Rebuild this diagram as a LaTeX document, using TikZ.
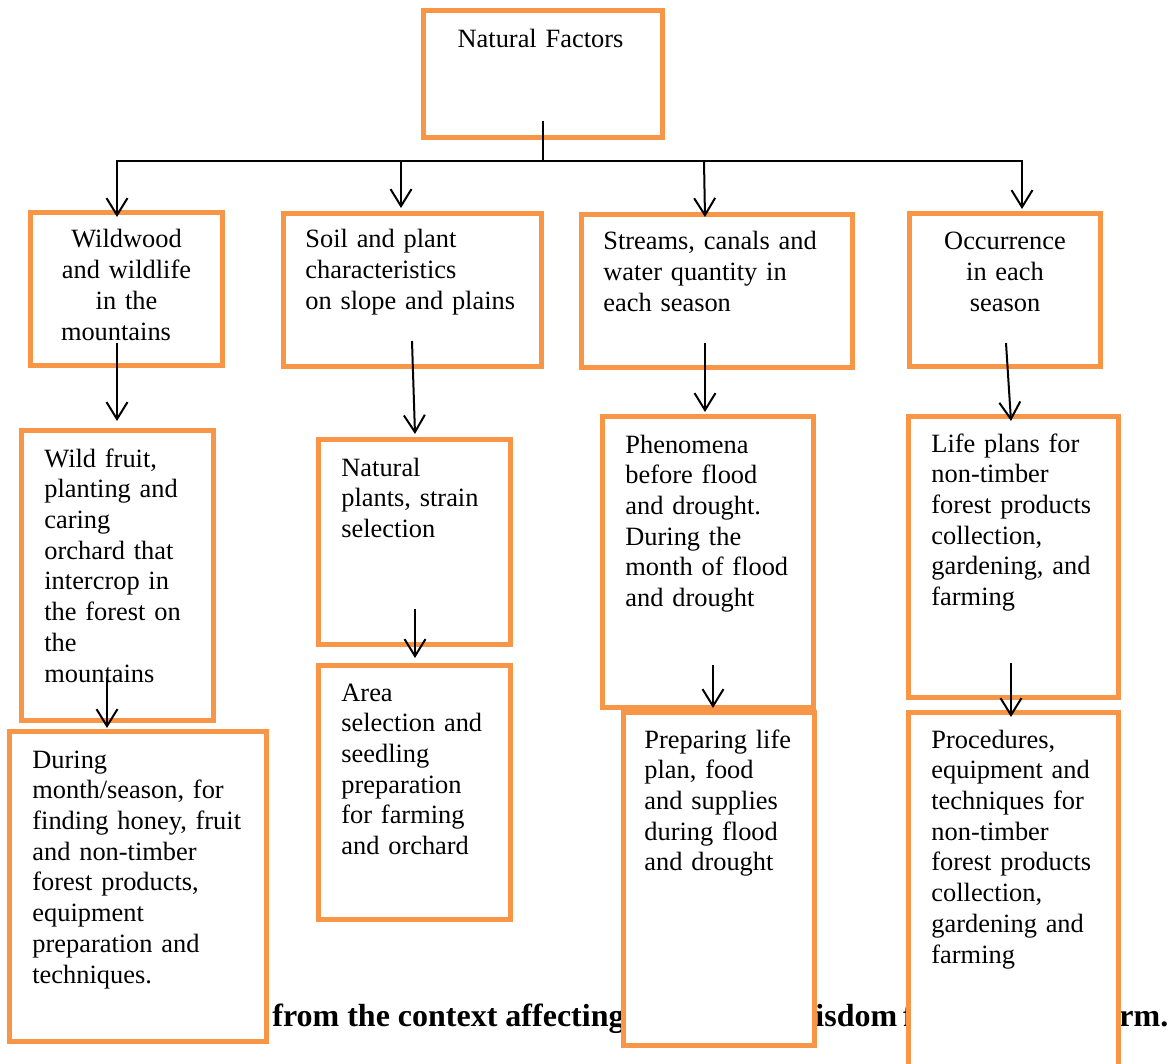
\documentclass[tikz,border=0pt]{standalone}
\usepackage{fontspec}
\setmainfont{Liberation Serif}
\usetikzlibrary{arrows.meta}
\definecolor{boxorange}{RGB}{247,150,70}
\newcommand\bxfont{\fontsize{13.2pt}{15.36pt}\selectfont}
\newcommand\capfont{\fontsize{16pt}{19pt}\selectfont\bfseries}
\begin{document}
\begin{tikzpicture}[x=0.5pt,y=-0.5pt,
 box/.style={draw=boxorange, line width=2.5pt, fill=white, inner sep=0pt, outer sep=0pt, rectangle},
 ltxt/.style={anchor=base west, align=left, text width=160pt, inner sep=0pt, font=\bxfont},
 ctxt/.style={anchor=base, align=center, text width=120pt, inner sep=0pt, font=\bxfont},
 captxt/.style={anchor=base west, inner sep=0pt, font=\capfont},
 conn/.style={line width=1pt, black},
 arr/.style={conn, -{Straight Barb[length=8.5pt,width=10.5pt]}}]
\useasboundingbox (0,0) rectangle (1173,1064);
% caption (partly hidden behind boxes)
\node[captxt] (cap1) at (272,1026) {from the context affecting};
\node[captxt] (cap2) at (815,1026) {isdom\hspace{-1pt} f};
\node[captxt] (cap3) at (1119,1026) {rm.};
% boxes
\node[box, minimum width=119.5pt, minimum height=63.5pt] (T) at (543,74) {};
\node[box, minimum width=96pt, minimum height=76.5pt] (B1) at (126.5,289) {};
\node[box, minimum width=129pt, minimum height=76.5pt] (B2) at (412.5,290) {};
\node[box, minimum width=135.5pt, minimum height=76.5pt] (B3) at (717,291) {};
\node[box, minimum width=95.5pt, minimum height=76.5pt] (B4) at (1005,290) {};
\node[box, minimum width=96pt, minimum height=145pt] (C1) at (117.5,575.5) {};
\node[box, minimum width=96pt, minimum height=102.5pt] (C2) at (414.5,542) {};
\node[box, minimum width=105.5pt, minimum height=145.5pt] (C3) at (708,562) {};
\node[box, minimum width=105pt, minimum height=140.5pt] (C4) at (1013.5,557) {};
\node[box, minimum width=128.5pt, minimum height=154.75pt] (D1) at (138,886.25) {};
\node[box, minimum width=96pt, minimum height=127pt] (D2) at (414.5,792.5) {};
\node[box, minimum width=95.5pt, minimum height=166.25pt] (D3) at (719,878.75) {};
\node[box, minimum width=105pt, minimum height=181.25pt] (D4) at (1013.5,893.75) {};
% texts
\node[ctxt] (tT) at (540.5,48) {Natural Factors};
\node[ctxt] (tB1) at (126.5,248) {Wildwood\\and wildlife\\in the\\mountains\hspace{10.5pt}\null};
\node[ltxt] (tB2) at (305,248) {Soil and plant\\characteristics\\on slope and plains};
\node[ltxt] (tB3) at (603,250) {Streams, canals and\\water quantity in\\each season};
\node[ctxt] (tB4) at (1005,250) {Occurrence\\in each\\season};
\node[ltxt] (tC1) at (44,467) {Wild fruit,\\planting and\\caring\\orchard that\\intercrop in\\the forest on\\the\\mountains};
\node[ltxt] (tC2) at (341,476) {Natural\\plants, strain\\selection};
\node[ltxt] (tC3) at (625,453) {Phenomena\\before flood\\and drought.\\During the\\month of flood\\and drought};
\node[ltxt] (tC4) at (931,452) {Life plans for\\non-timber\\forest products\\collection,\\gardening, and\\farming};
\node[ltxt] (tD1) at (32,768) {During\\month/season, for\\finding honey, fruit\\and non-timber\\forest products,\\equipment\\preparation and\\techniques.};
\node[ltxt] (tD2) at (341,701) {Area\\selection and\\seedling\\preparation\\for farming\\and orchard};
\node[ltxt] (tD3) at (644,748) {Preparing life\\plan, food\\and supplies\\during flood\\and drought};
\node[ltxt] (tD4) at (931,748) {Procedures,\\equipment and\\techniques for\\non-timber\\forest products\\collection,\\gardening and\\farming};
% connector points
\coordinate (ts) at (542.5,121);
\coordinate (tj) at (542.5,161);
\coordinate (hl) at (117,161);
\coordinate (hr) at (1022,161);
\coordinate (h2) at (401,161);
\coordinate (h3) at (704,161);
\coordinate (e1) at (117,217);
\coordinate (e2) at (401,208);
\coordinate (e3) at (705,217);
\coordinate (e4) at (1022,209);
\coordinate (s5) at (117,343);  \coordinate (e5) at (117,421);
\coordinate (s6) at (412,341);  \coordinate (e6) at (415,434);
\coordinate (s7) at (705,343);  \coordinate (e7) at (705,412);
\coordinate (s8) at (1006,343); \coordinate (e8) at (1011,421);
\coordinate (s9) at (107,677);  \coordinate (e9) at (107,728);
\coordinate (s10) at (415,609); \coordinate (e10) at (415,658);
\coordinate (s11) at (713,665); \coordinate (e11) at (713,708);
\coordinate (s12) at (1011,663); \coordinate (e12) at (1011,717);
% connectors
\draw[conn] (ts) -- (tj);
\draw[conn] (h2) -- (h3);
\draw[arr] (h2) -- (hl) -- (e1);
\draw[arr] (h3) -- (hr) -- (e4);
\draw[arr] (h2) -- (e2);
\draw[arr] (h3) -- (e3);
\draw[arr] (s5) -- (e5);
\draw[arr] (s6) -- (e6);
\draw[arr] (s7) -- (e7);
\draw[arr] (s8) -- (e8);
\draw[arr] (s9) -- (e9);
\draw[arr] (s10) -- (e10);
\draw[arr] (s11) -- (e11);
\draw[arr] (s12) -- (e12);
\end{tikzpicture}
\end{document}
